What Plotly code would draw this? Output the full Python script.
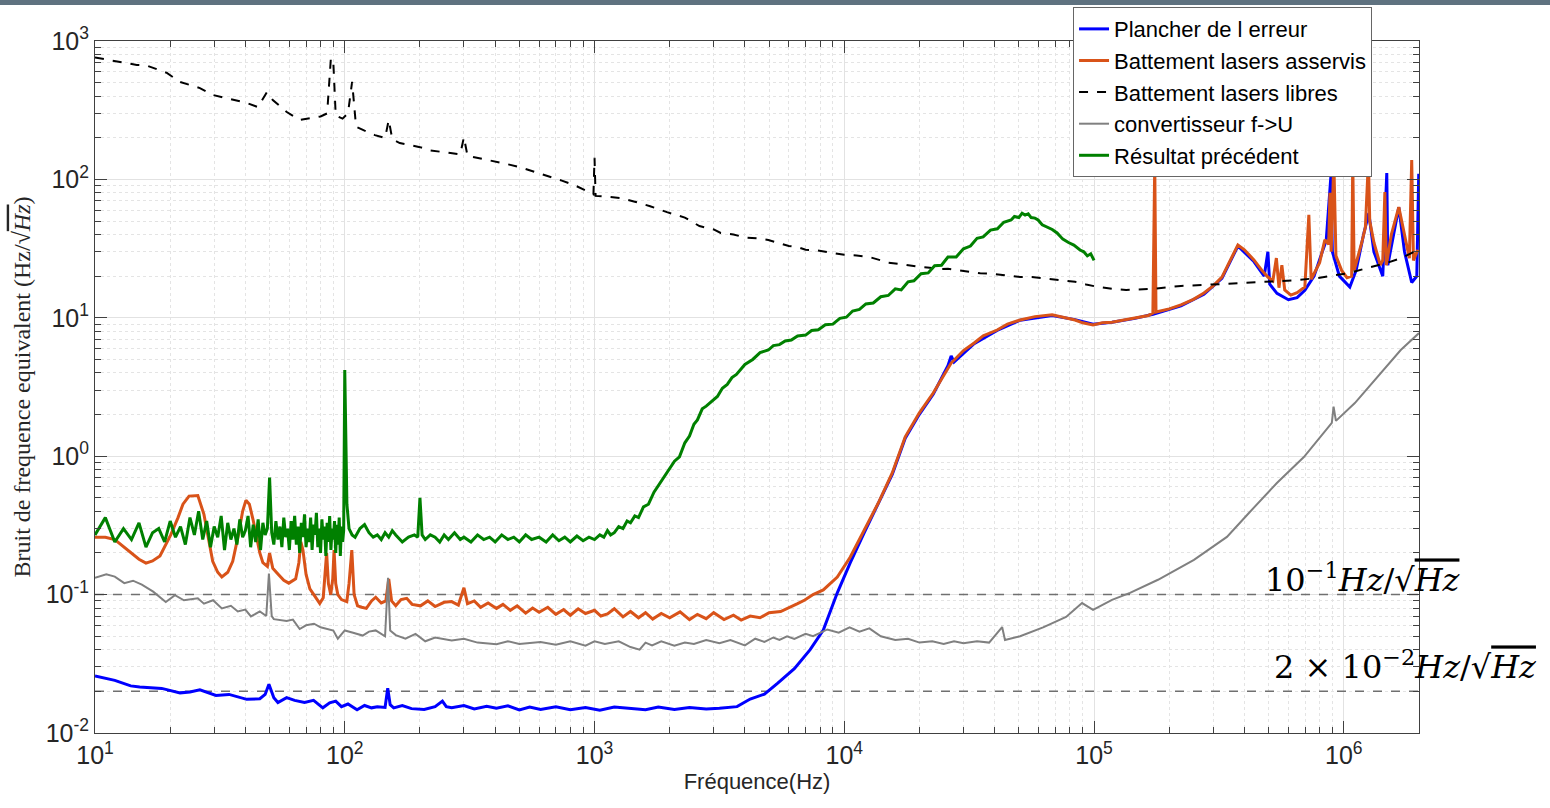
import plotly.graph_objects as go

# ---------------- data ----------------
# Plancher de l erreur (blue)
blue_f = [10, 12, 13.9, 15.1, 18.5, 21.9, 24, 26.3, 30.5, 34.4, 40.5, 45.7, 48, 49.7, 52, 54, 58.5, 63, 69, 75,
          81.7, 87, 92, 97, 103, 112, 120, 128, 135, 145, 148.6, 152, 157, 170, 185, 208, 230, 246, 255, 268,
          300, 330, 370, 405, 450, 500, 550, 608, 700, 800, 920, 1050, 1200, 1393, 1600, 1800, 2088, 2400, 2800,
          3162, 3720, 4200, 4790, 5400, 6310, 7300, 8241, 9376, 10570, 12020, 13680, 15560, 17540, 19950,
          22700, 26000, 26790, 27500, 33110, 40930, 50580, 67920, 83950, 99080, 118000, 145900, 172200,
          222800, 275400, 325100, 376700, 436500, 480000, 496600, 505000, 540000, 600000, 650000, 698200,
          760000, 820000, 850000, 887200, 900000, 960000, 1057000, 1120000, 1200000, 1259000, 1320000,
          1432000, 1486000, 1500000, 1580000, 1660000, 1750000, 1870000, 1960000, 1995000]
blue_v = [0.0258, 0.024, 0.0219, 0.0215, 0.021, 0.0195, 0.0198, 0.0205, 0.0187, 0.019, 0.0175, 0.0177, 0.019,
          0.0225, 0.018, 0.0166, 0.018, 0.0172, 0.0166, 0.0172, 0.0152, 0.0165, 0.017, 0.0155, 0.0162, 0.0147,
          0.0158, 0.0152, 0.0155, 0.0153, 0.0211, 0.016, 0.0152, 0.0158, 0.015, 0.0148, 0.0155, 0.017, 0.0155,
          0.0152, 0.0158, 0.0149, 0.0156, 0.0151, 0.0157, 0.0147, 0.0154, 0.0148, 0.0155, 0.0147, 0.0153,
          0.0146, 0.0154, 0.0151, 0.0147, 0.0154, 0.0148, 0.0153, 0.0149, 0.0151, 0.0155, 0.0176, 0.0191,
          0.0228, 0.0292, 0.040, 0.0555, 0.103, 0.17, 0.28, 0.45, 0.74, 1.35, 2.0, 2.8, 4.5, 5.3, 4.8, 6.5, 8.1,
          9.6, 10.4, 9.7, 9.0, 9.3, 9.9, 10.6, 12.2, 14.8, 19.3, 33, 25.5, 20, 30, 17.5, 15, 13.5, 14, 15.8,
          20, 30, 36, 104, 30, 20, 16.7, 22, 40, 57, 30, 20, 111, 24, 40, 63, 30, 18, 20, 110]

# Battement lasers asservis (orange)
orange_f = [10, 11, 12, 12.8, 14, 15, 16, 17, 18.2, 19, 20.1, 21.5, 22.5, 23.8, 25.8, 27.3, 28.5, 29.6, 31, 32.2,
            34, 35.6, 37.5, 39, 40.2, 41.5, 42.9, 44.5, 45.7, 47, 49, 50, 51.5, 54, 57, 59.7, 63.6, 65.5, 66.7,
            68, 70, 72.5, 75.3, 79.4, 82, 84.6, 86, 87.9, 89.5, 90.6, 92, 93.8, 97, 101.9, 104, 106.7, 109,
            112.5, 117, 122, 128, 133, 140, 146, 150, 154, 160, 168, 177, 186, 201, 215, 230, 250, 268, 285,
            300, 310, 330, 350, 375, 405, 430, 460, 490, 530, 565, 600, 650, 700, 752, 800, 860, 920, 1000,
            1060, 1127, 1200, 1300, 1393, 1500, 1600, 1710, 1850, 2000, 2200, 2400, 2582, 2800, 3000, 3300,
            3600, 3865, 4200, 4600, 5000, 5560, 6000, 6500, 6950, 7500, 8241, 9376, 10570, 12020, 13680,
            15560, 17540, 19950, 22700, 26790, 30000, 33110, 36000, 40930, 45000, 50580, 58000, 67920, 75000,
            83950, 90000, 99080, 108000, 118000, 130000, 145900, 165000, 172000, 175000, 177000, 200000,
            222800, 250000, 275400, 300000, 325100, 350000, 376700, 400000, 436500, 470000, 496600, 520000,
            537000, 550000, 564900, 580000, 613800, 650000, 698200, 724400, 740000, 800000, 839500, 870000,
            880000, 890000, 912000, 930000, 980000, 1030000, 1075000, 1086000, 1100000, 1180000, 1220000,
            1255000, 1270000, 1320000, 1400000, 1432000, 1460000, 1480000, 1550000, 1660000, 1750000,
            1830000, 1870000, 1900000, 1980000]
orange_v = [0.26, 0.26, 0.25, 0.228, 0.2, 0.18, 0.169, 0.175, 0.19, 0.22, 0.27, 0.36, 0.45, 0.515, 0.52, 0.38,
            0.25, 0.174, 0.145, 0.134, 0.145, 0.174, 0.27, 0.40, 0.48, 0.45, 0.35, 0.25, 0.2, 0.17, 0.16, 0.2,
            0.155, 0.141, 0.127, 0.121, 0.13, 0.17, 0.24, 0.21, 0.14, 0.11, 0.1, 0.0863, 0.095, 0.2, 0.12, 0.1,
            0.13, 0.21, 0.12, 0.1, 0.092, 0.089, 0.12, 0.21, 0.1, 0.083, 0.081, 0.0795, 0.09, 0.0957, 0.087,
            0.09, 0.13, 0.09, 0.083, 0.092, 0.094, 0.085, 0.083, 0.09, 0.082, 0.088, 0.089, 0.084, 0.112,
            0.086, 0.09, 0.081, 0.087, 0.0795, 0.085, 0.077, 0.083, 0.0735, 0.08, 0.0745, 0.081, 0.072, 0.078,
            0.071, 0.079, 0.073, 0.077, 0.07, 0.0725, 0.079, 0.069, 0.0755, 0.068, 0.074, 0.0665, 0.073, 0.068,
            0.075, 0.066, 0.072, 0.067, 0.074, 0.066, 0.071, 0.0655, 0.07, 0.068, 0.074, 0.0755, 0.08, 0.086,
            0.0914, 0.1, 0.108, 0.134, 0.187, 0.293, 0.459, 0.757, 1.38, 2.05, 2.86, 4.71, 5.8, 6.57, 7.4,
            8.16, 9.0, 9.64, 10.2, 10.5, 10.1, 9.64, 9.2, 8.87, 9.2, 9.3, 9.6, 9.93, 10.4, 10.8, 130, 11, 11.6,
            12.4, 13.6, 15.1, 17, 19.7, 26, 33.6, 31, 26.2, 22, 19.7, 18.5, 27, 16.5, 24, 15.9, 14.6, 15.2,
            16.7, 55.4, 19, 25, 36.6, 34, 80, 30, 138, 28, 22, 19.5, 20, 138, 22, 35, 45, 138, 50, 35, 24, 26,
            81, 24, 40, 63, 40, 27, 138, 26, 31]

# Battement lasers libres (black dashed)
black_f = [10, 12, 14.7, 16.1, 19.4, 21.9, 26.3, 29.7, 34.7, 40.5, 44.9, 48.8, 51.5, 58.6, 66, 72.4, 80, 85, 88,
           90, 92, 98, 103, 107, 111, 120, 132, 145, 150, 155, 166, 185, 200, 220, 240, 265, 290, 300, 310, 340,
           380, 430, 500, 570, 660, 740, 830, 900, 990, 1000, 1010, 1120, 1260, 1450, 1670, 1950, 2300, 2630,
           3000, 3200, 3600, 4018, 4500, 4966, 5500, 6000, 6500, 7000, 7700, 8551, 9300, 10000, 11200, 12589,
           14000, 15000, 17500, 19950, 22000, 24000, 26000, 28050, 31000, 35000, 38000, 42000, 46000, 50580,
           55000, 60000, 65000, 70000, 77000, 83950, 93000, 103700, 118000, 134300, 150000, 172200, 195000,
           222800, 280000, 340400, 420000, 515200, 650000, 787000, 900000, 1057000, 1250000, 1486000,
           1700000, 1977000]
black_v = [760, 716, 671, 665, 588, 506, 457, 407, 381, 357, 333, 427, 375, 307, 269, 278, 285, 300, 753, 700, 290,
           275, 300, 506, 240, 225, 209, 199, 269, 195, 183, 176, 171, 162, 158, 155, 152, 202, 148, 143, 138,
           131, 123, 114, 106, 98, 91, 85, 78, 143, 76, 75, 73.5, 69, 64, 58, 53, 46, 43.5, 41, 40, 38, 37.5,
           36.5, 34.5, 33, 32.5, 31, 30.8, 29.9, 29.2, 28.5, 28.2, 27.5, 26, 25, 24.2, 23.3, 23, 22.5, 22.6,
           22.2, 21.6, 21, 20.9, 20.5, 20.1, 19.7, 19.8, 19.5, 19.1, 18.8, 18.6, 18.2, 17.4, 16.7, 16.2, 15.9,
           16.0, 16.2, 16.6, 17.0, 17.3, 17.6, 17.9, 18.2, 18.7, 19.4, 20.1, 21.1, 23.0, 24.9, 27.0, 30.9]

# convertisseur f->U (grey)
grey_f = [10, 11.1, 12, 13.1, 14.2, 15.4, 17.1, 19.2, 20.9, 22.7, 25.8, 27.3, 29.7, 32.2, 35, 37.3, 40, 42.1,
          45.7, 48.5, 49.7, 51, 52, 58.5, 62, 66, 70, 75.3, 80, 84.6, 90, 93.8, 100, 108, 118, 125, 133, 145,
          149, 152, 160, 175, 192, 210, 230, 268, 300, 340, 405, 450, 500, 608, 700, 800, 920, 1000, 1100, 1250,
          1393, 1515, 1600, 1700, 1850, 2088, 2300, 2500, 2800, 3162, 3500, 4000, 4400, 4790, 5200, 5500,
          5900, 6310, 7000, 7500, 8551, 9500, 10500, 11500, 12600, 14000, 16000, 18000, 20000, 22500, 25000,
          27500, 30000, 34000, 38000, 42850, 44000, 50580, 62520, 77270, 89540, 99080, 118000, 139300,
          180300, 251200, 340400, 416900, 539500, 691800, 895400, 910000, 930000, 1107000, 1368000,
          1690000, 2000000]
grey_v = [0.132, 0.14, 0.135, 0.121, 0.126, 0.118, 0.105, 0.0885, 0.099, 0.091, 0.094, 0.086, 0.091, 0.0795,
          0.083, 0.0755, 0.078, 0.0695, 0.0755, 0.07, 0.142, 0.07, 0.0665, 0.0645, 0.066, 0.0564, 0.06, 0.0616,
          0.058, 0.0564, 0.055, 0.048, 0.0551, 0.053, 0.0506, 0.054, 0.0551, 0.05, 0.132, 0.055, 0.051, 0.048,
          0.052, 0.046, 0.049, 0.0467, 0.048, 0.045, 0.0438, 0.046, 0.044, 0.0455, 0.0435, 0.046, 0.0427,
          0.046, 0.044, 0.046, 0.0418, 0.040, 0.045, 0.043, 0.046, 0.0427, 0.045, 0.044, 0.047, 0.0445, 0.047,
          0.043, 0.048, 0.0455, 0.049, 0.047, 0.05, 0.0478, 0.052, 0.05, 0.056, 0.053, 0.058, 0.054, 0.057,
          0.05, 0.047, 0.048, 0.045, 0.046, 0.044, 0.046, 0.0445, 0.046, 0.045, 0.0583, 0.047, 0.05, 0.058,
          0.0689, 0.0869, 0.0775, 0.0915, 0.103, 0.128, 0.178, 0.261, 0.389, 0.64, 0.986, 1.74, 2.28, 1.8,
          2.42, 3.73, 5.85, 7.76]

# Résultat précédent (green)
green_f = [10, 11, 12, 13, 14, 15, 16, 17, 18, 19, 20, 21, 22, 23, 24, 25, 26, 27, 28, 29, 30, 31, 32, 33, 34,
           35, 36, 37, 38, 39, 40, 41, 42, 43, 44, 45, 46, 47, 48, 49, 50, 51, 52, 53, 54, 55, 56, 57, 58, 59,
           60, 61, 62, 63, 64, 65, 66, 67, 68, 69, 70, 71, 72, 73, 74, 75, 76, 77, 78, 79, 80, 81, 82, 83, 84,
           85, 86, 87, 88, 89, 90, 91, 92, 93, 94, 95, 96, 97, 98, 99, 100, 101, 102, 104, 107, 110, 115, 120,
           125, 130, 135, 140, 145, 150, 155, 160, 170, 180, 190, 196, 200, 204, 210, 220, 230, 240, 250, 260,
           275, 290, 300, 320, 340, 360, 380, 400, 425, 450, 475, 500, 530, 560, 600, 640, 680, 720, 760, 800,
           850, 900, 950, 1000, 1050, 1090, 1127, 1160, 1200, 1250, 1300, 1350, 1393, 1450, 1500, 1570, 1644,
           1730, 1820, 1900, 2000, 2090, 2188, 2300, 2400, 2500, 2582, 2700, 2800, 2950, 3105, 3250, 3400,
           3550, 3700, 4000, 4300, 4600, 4966, 5200, 5500, 5800, 6138, 6500, 7000, 7400, 7870, 8400, 9000,
           9600, 10190, 10800, 11500, 12200, 13060, 14000, 15000, 16000, 16900, 18000, 19000, 20300, 21680,
           23000, 24500, 26000, 28050, 30000, 32000, 34000, 35970, 38500, 41000, 43500, 46560, 48000, 50000,
           51500, 52970, 54500, 56000, 58000, 59700, 62000, 65000, 68000, 71120, 75000, 79000, 83000, 87900,
           91000, 94000, 97000, 100000]
green_v = [0.27, 0.36, 0.24, 0.30, 0.25, 0.33, 0.22, 0.28, 0.30, 0.24, 0.34, 0.26, 0.31, 0.23, 0.36, 0.27, 0.40,
           0.25, 0.34, 0.22, 0.31, 0.26, 0.37, 0.21, 0.33, 0.25, 0.30, 0.23, 0.35, 0.26, 0.29, 0.37, 0.22, 0.32,
           0.24, 0.35, 0.21, 0.33, 0.27, 0.30, 0.70, 0.28, 0.23, 0.34, 0.25, 0.31, 0.22, 0.36, 0.26, 0.30, 0.21,
           0.34, 0.25, 0.37, 0.23, 0.31, 0.20, 0.33, 0.26, 0.38, 0.22, 0.30, 0.24, 0.36, 0.21, 0.32, 0.27, 0.39,
           0.22, 0.30, 0.20, 0.35, 0.25, 0.31, 0.19, 0.33, 0.24, 0.37, 0.21, 0.30, 0.25, 0.34, 0.20, 0.32, 0.23,
           0.36, 0.19, 0.31, 0.24, 0.29, 4.2, 1.2, 0.45, 0.30, 0.27, 0.26, 0.30, 0.32, 0.28, 0.26, 0.27, 0.25,
           0.28, 0.26, 0.29, 0.27, 0.24, 0.26, 0.27, 0.26, 0.50, 0.27, 0.25, 0.27, 0.26, 0.24, 0.27, 0.25, 0.28,
           0.25, 0.26, 0.24, 0.27, 0.25, 0.26, 0.24, 0.27, 0.25, 0.26, 0.24, 0.27, 0.25, 0.26, 0.24, 0.27, 0.245,
           0.26, 0.24, 0.265, 0.245, 0.26, 0.25, 0.27, 0.26, 0.29, 0.27, 0.28, 0.31, 0.30, 0.34, 0.33, 0.37,
           0.36, 0.43, 0.45, 0.55, 0.63, 0.70, 0.80, 0.92, 0.99, 1.25, 1.4, 1.7, 1.83, 2.2, 2.3, 2.5, 2.7, 3.1,
           3.3, 3.7, 3.9, 4.6, 5.0, 5.6, 5.85, 6.3, 6.4, 6.8, 6.9, 7.4, 7.5, 8.1, 8.2, 8.9, 9.0, 9.9, 10.1,
           11.2, 11.5, 12.6, 12.8, 14.2, 14.5, 16.2, 15.9, 18.2, 18.5, 20.8, 21.1, 23.8, 24, 27.5, 27.5, 31.5,
           33, 37.5, 38.4, 43, 44, 49, 50.9, 54, 53, 57, 55.3, 56.5, 53, 52.5, 50.9, 47, 45, 43.5, 41, 37, 35,
           33.5, 30.9, 30, 28, 29, 26]

# reference levels (Hz/sqrt(Hz))
ref_levels = [0.1, 0.02]

x_tickvals = [10, 100, 1000, 10000, 100000, 1000000]
x_ticktext = ["10<sup>1</sup>", "10<sup>2</sup>", "10<sup>3</sup>", "10<sup>4</sup>", "10<sup>5</sup>", "10<sup>6</sup>"]
y_tickvals = [0.01, 0.1, 1, 10, 100, 1000]
y_ticktext = ["10<sup>-2</sup>", "10<sup>-1</sup>", "10<sup>0</sup>", "10<sup>1</sup>", "10<sup>2</sup>", "10<sup>3</sup>"]

# ---------------- figure ----------------
fig = go.Figure()

for lv in ref_levels:
    fig.add_trace(go.Scatter(x=[10, 2e6], y=[lv, lv], mode="lines", showlegend=False, hoverinfo="skip",
                             line=dict(color="#707070", width=1.5, dash="dash")))

fig.add_trace(go.Scatter(x=blue_f, y=blue_v, mode="lines", name="Plancher de l erreur",
                         line=dict(color="#0000FF", width=3)))
fig.add_trace(go.Scatter(x=orange_f, y=orange_v, mode="lines", name="Battement lasers asservis",
                         line=dict(color="#D95319", width=3)))
fig.add_trace(go.Scatter(x=black_f, y=black_v, mode="lines", name="Battement lasers libres",
                         line=dict(color="#000000", width=2, dash="dash")))
fig.add_trace(go.Scatter(x=grey_f, y=grey_v, mode="lines", name="convertisseur f->U",
                         line=dict(color="#808080", width=2)))
fig.add_trace(go.Scatter(x=green_f, y=green_v, mode="lines", name="Résultat précédent",
                         line=dict(color="#008000", width=3)))

x_minor = [m * 10 ** e for e in range(1, 7) for m in range(2, 10) if m * 10 ** e <= 2e6]
y_minor = [m * 10.0 ** e for e in range(-2, 3) for m in range(2, 10)]

axis_common = dict(
    showline=True, linecolor="#404040", linewidth=1, mirror="allticks",
    ticks="inside", ticklen=12, tickcolor="#404040", tickwidth=1,
    showgrid=True, gridcolor="#e2e2e2", gridwidth=1,
    zeroline=False,
    tickfont=dict(family="Liberation Sans, Arial", size=25, color="#262626"),
)

fig.update_xaxes(type="log", range=[1, 6.30103], tickvals=x_tickvals, ticktext=x_ticktext,
                 minor=dict(tickvals=x_minor, ticks="inside", ticklen=6, tickcolor="#404040",
                            showgrid=True, gridcolor="#e4e4e4", griddash="dot"),
                 title=dict(text="Fréquence(Hz)", font=dict(family="Liberation Sans, Arial", size=22, color="#262626"),
                            standoff=4),
                 **axis_common)
fig.update_yaxes(type="log", range=[-2, 3], tickvals=y_tickvals, ticktext=y_ticktext,
                 minor=dict(tickvals=y_minor, ticks="inside", ticklen=6, tickcolor="#404040",
                            showgrid=True, gridcolor="#e4e4e4", griddash="dot"),
                 title=dict(text="Bruit de frequence equivalent (Hz/√<span style=\"text-decoration:overline\"><i>Hz</i></span>)",
                            font=dict(family="Liberation Serif, Times New Roman", size=24, color="#262626"),
                            standoff=8),
                 **axis_common)

fig.update_layout(
    width=1550, height=808,
    margin=dict(l=95, r=131, t=41, b=75, autoexpand=False),
    paper_bgcolor="white", plot_bgcolor="white",
    font=dict(family="Liberation Sans, Arial", color="#262626"),
    legend=dict(x=0.7387, y=1.049, xanchor="left", yanchor="top",
                bgcolor="white", bordercolor="#666666", borderwidth=1,
                font=dict(family="Liberation Sans, Arial", size=22, color="#000000"),
                itemwidth=30, tracegroupgap=0),
    shapes=[dict(type="rect", xref="paper", yref="paper", x0=-0.08, x1=1.1, y0=1.052, y1=1.07,
                 fillcolor="#5f7280", line=dict(width=0))],
    annotations=[
        dict(text="10<sup>−1</sup><i>Hz</i>/√<span style=\"text-decoration:overline\"><i>Hz</i></span>",
             xref="paper", yref="paper", x=0.958, y=0.224,
             xanchor="center", yanchor="middle", showarrow=False,
             font=dict(family="DejaVu Serif", size=32, color="#000000")),
        dict(text="2 × 10<sup>−2</sup><i>Hz</i>/√<span style=\"text-decoration:overline\"><i>Hz</i></span>",
             xref="paper", yref="paper", x=0.99, y=0.0983,
             xanchor="center", yanchor="middle", showarrow=False,
             font=dict(family="DejaVu Serif", size=32, color="#000000")),
    ],
)

fig.write_html("out.html", config={"displayModeBar": False},
               post_script="document.body.style.margin='0';")
